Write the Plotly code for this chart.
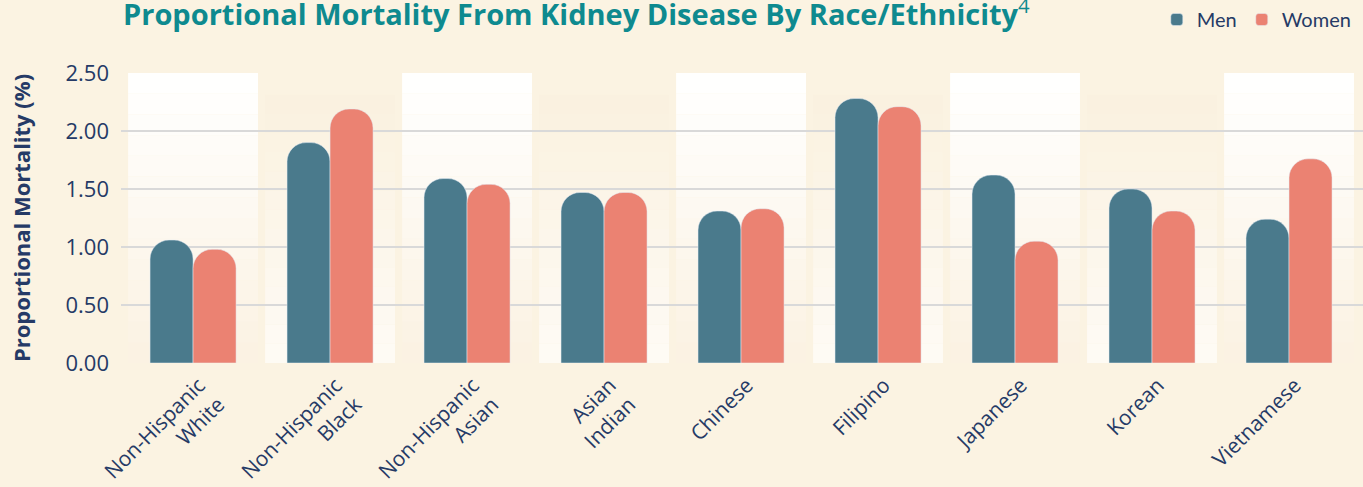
import plotly.graph_objects as go

categories = ["Non-Hispanic<br>White", "Non-Hispanic<br>Black", "Non-Hispanic<br>Asian",
              "Asian<br>Indian", "Chinese", "Filipino", "Japanese", "Korean", "Vietnamese"]
men = [1.06, 1.90, 1.59, 1.47, 1.31, 2.28, 1.62, 1.50, 1.24]
women = [0.98, 2.19, 1.54, 1.47, 1.33, 2.21, 1.05, 1.31, 1.76]
y_ticks = [0, 0.5, 1.0, 1.5, 2.0, 2.5]

MEN_C = "#4A7A8C"
WOMEN_C = "#EB8272"
NAVY = "#253A66"
TEAL = "#0E8A8F"
PAPER = "#FBF3E2"
FONT = "Open Sans"

xs = list(range(len(categories)))

fig = go.Figure()
fig.add_trace(go.Bar(x=xs, y=men, name="Men", marker=dict(color=MEN_C, cornerradius=19)))
fig.add_trace(go.Bar(x=xs, y=women, name="Women", marker=dict(color=WOMEN_C, cornerradius=19)))


def mix(c1, c2, t):
    a = [int(c1[i:i + 2], 16) for i in (1, 3, 5)]
    b = [int(c2[i:i + 2], 16) for i in (1, 3, 5)]
    return "#" + "".join(f"{round(a[k] + (b[k] - a[k]) * t):02X}" for k in range(3))


shapes = []
N = 14
top = y_ticks[-1]
for i in xs:
    if i % 2 == 0:
        x0, x1, yt = i - 0.474, i + 0.474, top
        ctop, cbot = "#FFFFFF", "#FBF2E2"
    else:
        x0, x1, yt = i - 0.474, i + 0.474, top * 0.925
        ctop, cbot = "#FAF1DF", "#FEFBF5"
    for k in range(N):
        ya = yt * k / N
        yb = yt * (k + 1) / N
        t = (k + 0.5) / N
        shapes.append(dict(type="rect", xref="x", yref="y", x0=x0, x1=x1, y0=ya, y1=yb,
                           fillcolor=mix(cbot, ctop, t), line=dict(width=0), layer="below"))

fig.update_layout(
    width=1363, height=487,
    paper_bgcolor=PAPER, plot_bgcolor=PAPER,
    margin=dict(l=121, r=0, t=73, b=124),
    barmode="group", bargap=0.372, bargroupgap=0,
    shapes=shapes,
    font=dict(family=FONT, color=NAVY),
    showlegend=True,
    legend=dict(orientation="h", x=0.995, xanchor="right", y=1.0, yanchor="top", yref="container",
                font=dict(family="Lato", size=20, color=NAVY), bgcolor="rgba(0,0,0,0)",
                itemwidth=30, traceorder="normal"),
    annotations=[dict(text="Proportional Mortality From Kidney Disease By Race/Ethnicity"
                           "<sup><span style='font-weight:normal'>4</span></sup>",
                      xref="paper", yref="paper", x=0.0, y=1.0, xanchor="left", yanchor="bottom",
                      xshift=0, yshift=38, showarrow=False,
                      font=dict(family=FONT, size=29, color=TEAL, weight="bold"))],
)
fig.update_xaxes(range=[-0.526, 8.54], tickvals=xs, ticktext=categories, tickangle=-45,
                 tickfont=dict(size=21, color=NAVY), showgrid=False, zeroline=False,
                 showline=False, ticks="", ticklabelshift=6, ticklabelstandoff=5, automargin=False)
fig.update_yaxes(range=[0, 2.5], tickvals=y_ticks, tickformat=".2f",
                 tickfont=dict(size=22, color=NAVY), showgrid=True, gridcolor="#D9D9D9",
                 gridwidth=2, zeroline=False, ticks="", ticklabelstandoff=11, automargin=False,
                 title=dict(text="<b>Proportional Mortality (%)</b>", font=dict(size=22, color=NAVY),
                            standoff=28))

fig.write_html("out.html", config={"displayModeBar": False},
               post_script="document.body.style.margin='0';")
